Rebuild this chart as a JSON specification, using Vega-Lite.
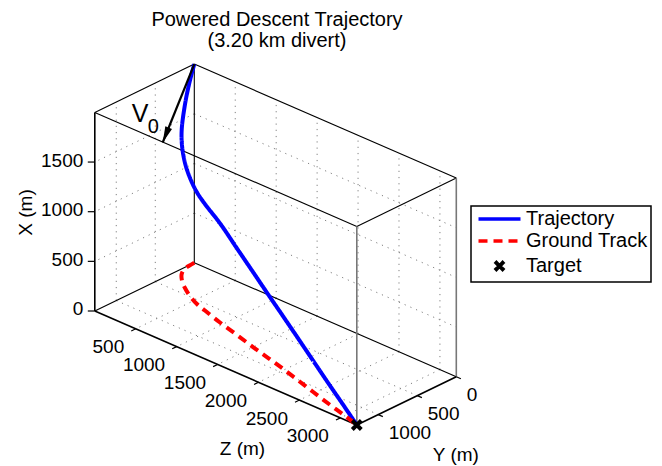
{
  "$schema": "https://vega.github.io/schema/vega-lite/v6.json",
  "width": 662,
  "height": 466,
  "autosize": {"type": "none"},
  "padding": 0,
  "background": "white",
  "config": {"view": {"stroke": null}, "font": "Liberation Sans", "text": {"font": "Liberation Sans", "color": "black"}},
  "title": {
    "text": ["Powered Descent Trajectory", "(3.20 km divert)"],
    "anchor": "middle", "frame": "group", "orient": "top", "offset": -51, "dx": -54,
    "font": "Liberation Sans", "fontSize": 20, "fontWeight": "normal", "color": "black", "lineHeight": 21
  },
  "datasets": {
    "seg": [
      {"part": "grid", "Z": 500, "Y": 0, "X": 0, "Z2": 500, "Y2": 1275, "X2": 0},
      {"part": "grid", "Z": 1000, "Y": 0, "X": 0, "Z2": 1000, "Y2": 1275, "X2": 0},
      {"part": "grid", "Z": 1500, "Y": 0, "X": 0, "Z2": 1500, "Y2": 1275, "X2": 0},
      {"part": "grid", "Z": 2000, "Y": 0, "X": 0, "Z2": 2000, "Y2": 1275, "X2": 0},
      {"part": "grid", "Z": 2500, "Y": 0, "X": 0, "Z2": 2500, "Y2": 1275, "X2": 0},
      {"part": "grid", "Z": 3000, "Y": 0, "X": 0, "Z2": 3000, "Y2": 1275, "X2": 0},
      {"part": "grid", "Z": 0, "Y": 500, "X": 0, "Z2": 3200, "Y2": 500, "X2": 0},
      {"part": "grid", "Z": 0, "Y": 1000, "X": 0, "Z2": 3200, "Y2": 1000, "X2": 0},
      {"part": "grid", "Z": 500, "Y": 0, "X": 0, "Z2": 500, "Y2": 0, "X2": 2000},
      {"part": "grid", "Z": 1000, "Y": 0, "X": 0, "Z2": 1000, "Y2": 0, "X2": 2000},
      {"part": "grid", "Z": 1500, "Y": 0, "X": 0, "Z2": 1500, "Y2": 0, "X2": 2000},
      {"part": "grid", "Z": 2000, "Y": 0, "X": 0, "Z2": 2000, "Y2": 0, "X2": 2000},
      {"part": "grid", "Z": 2500, "Y": 0, "X": 0, "Z2": 2500, "Y2": 0, "X2": 2000},
      {"part": "grid", "Z": 3000, "Y": 0, "X": 0, "Z2": 3000, "Y2": 0, "X2": 2000},
      {"part": "grid", "Z": 0, "Y": 0, "X": 500, "Z2": 3200, "Y2": 0, "X2": 500},
      {"part": "grid", "Z": 0, "Y": 0, "X": 1000, "Z2": 3200, "Y2": 0, "X2": 1000},
      {"part": "grid", "Z": 0, "Y": 0, "X": 1500, "Z2": 3200, "Y2": 0, "X2": 1500},
      {"part": "grid", "Z": 0, "Y": 500, "X": 0, "Z2": 0, "Y2": 500, "X2": 2000},
      {"part": "grid", "Z": 0, "Y": 1000, "X": 0, "Z2": 0, "Y2": 1000, "X2": 2000},
      {"part": "grid", "Z": 0, "Y": 0, "X": 500, "Z2": 0, "Y2": 1275, "X2": 500},
      {"part": "grid", "Z": 0, "Y": 0, "X": 1000, "Z2": 0, "Y2": 1275, "X2": 1000},
      {"part": "grid", "Z": 0, "Y": 0, "X": 1500, "Z2": 0, "Y2": 1275, "X2": 1500},
      {"part": "box", "Z": 0, "Y": 0, "X": 0, "Z2": 0, "Y2": 1275, "X2": 0},
      {"part": "box", "Z": 0, "Y": 0, "X": 0, "Z2": 3200, "Y2": 0, "X2": 0},
      {"part": "box", "Z": 0, "Y": 0, "X": 2000, "Z2": 0, "Y2": 1275, "X2": 2000},
      {"part": "box", "Z": 0, "Y": 0, "X": 2000, "Z2": 3200, "Y2": 0, "X2": 2000},
      {"part": "box", "Z": 0, "Y": 1275, "X": 2000, "Z2": 3200, "Y2": 1275, "X2": 2000},
      {"part": "box", "Z": 3200, "Y": 0, "X": 2000, "Z2": 3200, "Y2": 1275, "X2": 2000},
      {"part": "box", "Z": 0, "Y": 0, "X": 0, "Z2": 0, "Y2": 0, "X2": 2000},
      {"part": "vert", "Z": 3200, "Y": 0, "X": 0, "Z2": 3200, "Y2": 0, "X2": 2000},
      {"part": "vert", "Z": 3200, "Y": 1275, "X": 0, "Z2": 3200, "Y2": 1275, "X2": 2000},
      {"part": "axis", "Z": 0, "Y": 1275, "X": 0, "Z2": 3200, "Y2": 1275, "X2": 0},
      {"part": "axis", "Z": 3200, "Y": 0, "X": 0, "Z2": 3200, "Y2": 1275, "X2": 0},
      {"part": "axis", "Z": 0, "Y": 1275, "X": 0, "Z2": 0, "Y2": 1275, "X2": 2000}
    ],
    "ticks": [
      {"axis": "Z", "label": "500", "Z": 500, "Y": 1275, "X": 0},
      {"axis": "Z", "label": "1000", "Z": 1000, "Y": 1275, "X": 0},
      {"axis": "Z", "label": "1500", "Z": 1500, "Y": 1275, "X": 0},
      {"axis": "Z", "label": "2000", "Z": 2000, "Y": 1275, "X": 0},
      {"axis": "Z", "label": "2500", "Z": 2500, "Y": 1275, "X": 0},
      {"axis": "Z", "label": "3000", "Z": 3000, "Y": 1275, "X": 0},
      {"axis": "Y", "label": "0", "Z": 3200, "Y": 0, "X": 0},
      {"axis": "Y", "label": "500", "Z": 3200, "Y": 500, "X": 0},
      {"axis": "Y", "label": "1000", "Z": 3200, "Y": 1000, "X": 0},
      {"axis": "X", "label": "0", "Z": 0, "Y": 1275, "X": 0},
      {"axis": "X", "label": "500", "Z": 0, "Y": 1275, "X": 500},
      {"axis": "X", "label": "1000", "Z": 0, "Y": 1275, "X": 1000},
      {"axis": "X", "label": "1500", "Z": 0, "Y": 1275, "X": 1500}
    ],
    "titles": [
      {"axis": "X", "label": "X (m)", "Z": 0, "Y": 1275, "X": 1000},
      {"axis": "Z", "label": "Z (m)", "Z": 1600, "Y": 1275, "X": 0},
      {"axis": "Y", "label": "Y (m)", "Z": 3200, "Y": 637.5, "X": 0}
    ],
    "path": [
      {"series": "Trajectory", "t": 0, "Z": 0, "Y": 0, "X": 2000},
      {"series": "Trajectory", "t": 1, "Z": 7, "Y": 68, "X": 1848},
      {"series": "Trajectory", "t": 2, "Z": 14, "Y": 134, "X": 1650},
      {"series": "Trajectory", "t": 3, "Z": 69, "Y": 234, "X": 1450},
      {"series": "Trajectory", "t": 4, "Z": 164, "Y": 329, "X": 1360},
      {"series": "Trajectory", "t": 5, "Z": 276, "Y": 409, "X": 1260},
      {"series": "Trajectory", "t": 6, "Z": 414, "Y": 490, "X": 1190},
      {"series": "Trajectory", "t": 7, "Z": 565, "Y": 559, "X": 1125},
      {"series": "Trajectory", "t": 8, "Z": 703, "Y": 601, "X": 1072},
      {"series": "Trajectory", "t": 9, "Z": 959, "Y": 677, "X": 999},
      {"series": "Trajectory", "t": 10, "Z": 1234, "Y": 748, "X": 872},
      {"series": "Trajectory", "t": 11, "Z": 1497, "Y": 818, "X": 755},
      {"series": "Trajectory", "t": 12, "Z": 1741, "Y": 879, "X": 639},
      {"series": "Trajectory", "t": 13, "Z": 1984, "Y": 941, "X": 528},
      {"series": "Trajectory", "t": 14, "Z": 2233, "Y": 1010, "X": 421},
      {"series": "Trajectory", "t": 15, "Z": 2482, "Y": 1080, "X": 314},
      {"series": "Trajectory", "t": 16, "Z": 2731, "Y": 1149, "X": 206},
      {"series": "Trajectory", "t": 17, "Z": 2974, "Y": 1211, "X": 96},
      {"series": "Trajectory", "t": 18, "Z": 3200, "Y": 1275, "X": 0},
      {"series": "Ground Track", "t": 0, "Z": 0, "Y": 0, "X": 0},
      {"series": "Ground Track", "t": 1, "Z": 7, "Y": 68, "X": 0},
      {"series": "Ground Track", "t": 2, "Z": 14, "Y": 134, "X": 0},
      {"series": "Ground Track", "t": 3, "Z": 69, "Y": 234, "X": 0},
      {"series": "Ground Track", "t": 4, "Z": 164, "Y": 329, "X": 0},
      {"series": "Ground Track", "t": 5, "Z": 276, "Y": 409, "X": 0},
      {"series": "Ground Track", "t": 6, "Z": 414, "Y": 490, "X": 0},
      {"series": "Ground Track", "t": 7, "Z": 565, "Y": 559, "X": 0},
      {"series": "Ground Track", "t": 8, "Z": 703, "Y": 601, "X": 0},
      {"series": "Ground Track", "t": 9, "Z": 959, "Y": 677, "X": 0},
      {"series": "Ground Track", "t": 10, "Z": 1234, "Y": 748, "X": 0},
      {"series": "Ground Track", "t": 11, "Z": 1497, "Y": 818, "X": 0},
      {"series": "Ground Track", "t": 12, "Z": 1741, "Y": 879, "X": 0},
      {"series": "Ground Track", "t": 13, "Z": 1984, "Y": 941, "X": 0},
      {"series": "Ground Track", "t": 14, "Z": 2233, "Y": 1010, "X": 0},
      {"series": "Ground Track", "t": 15, "Z": 2482, "Y": 1080, "X": 0},
      {"series": "Ground Track", "t": 16, "Z": 2731, "Y": 1149, "X": 0},
      {"series": "Ground Track", "t": 17, "Z": 2974, "Y": 1211, "X": 0},
      {"series": "Ground Track", "t": 18, "Z": 3200, "Y": 1275, "X": 0}
    ],
    "arrow": [
      {"name": "V", "sub": "0", "Z": 0, "Y": 0, "X": 2000, "Z2": 0, "Y2": 405, "X2": 1365}
    ],
    "target": [
      {"series": "Target", "Z": 3200, "Y": 1275, "X": 0}
    ]
  },
  "encoding": {
    "x": {"field": "px", "type": "quantitative", "scale": {"domain": [0, 662], "nice": false, "zero": false}, "axis": null},
    "y": {"field": "py", "type": "quantitative", "scale": {"domain": [0, 466], "nice": false, "zero": false, "reverse": true}, "axis": null}
  },
  "layer": [
    {
      "data": {"name": "seg"},
      "transform": [
        {"filter": "datum.part === 'grid'"},
        {"calculate": "194.3 + 0.081875*datum.Z - 0.078039*datum.Y", "as": "px"},
        {"calculate": "262.7 + 0.035625*datum.Z + 0.037882*datum.Y - 0.0993*datum.X", "as": "py"},
        {"calculate": "194.3 + 0.081875*datum.Z2 - 0.078039*datum.Y2", "as": "px2"},
        {"calculate": "262.7 + 0.035625*datum.Z2 + 0.037882*datum.Y2 - 0.0993*datum.X2", "as": "py2"}
      ],
      "mark": {"type": "rule", "color": "#808080", "strokeWidth": 1, "strokeDash": [1.2, 5]},
      "encoding": {"x2": {"field": "px2"}, "y2": {"field": "py2"}}
    },
    {
      "data": {"name": "seg"},
      "transform": [
        {"filter": "datum.part === 'box'"},
        {"calculate": "194.3 + 0.081875*datum.Z - 0.078039*datum.Y", "as": "px"},
        {"calculate": "262.7 + 0.035625*datum.Z + 0.037882*datum.Y - 0.0993*datum.X", "as": "py"},
        {"calculate": "194.3 + 0.081875*datum.Z2 - 0.078039*datum.Y2", "as": "px2"},
        {"calculate": "262.7 + 0.035625*datum.Z2 + 0.037882*datum.Y2 - 0.0993*datum.X2", "as": "py2"}
      ],
      "mark": {"type": "rule", "color": "#000000", "strokeWidth": 1.1},
      "encoding": {"x2": {"field": "px2"}, "y2": {"field": "py2"}}
    },
    {
      "data": {"name": "seg"},
      "transform": [
        {"filter": "datum.part === 'vert'"},
        {"calculate": "194.3 + 0.081875*datum.Z - 0.078039*datum.Y", "as": "px"},
        {"calculate": "262.7 + 0.035625*datum.Z + 0.037882*datum.Y - 0.0993*datum.X", "as": "py"},
        {"calculate": "194.3 + 0.081875*datum.Z2 - 0.078039*datum.Y2", "as": "px2"},
        {"calculate": "262.7 + 0.035625*datum.Z2 + 0.037882*datum.Y2 - 0.0993*datum.X2", "as": "py2"}
      ],
      "mark": {"type": "rule", "color": "#777777", "strokeWidth": 1.6},
      "encoding": {"x2": {"field": "px2"}, "y2": {"field": "py2"}}
    },
    {
      "data": {"name": "seg"},
      "transform": [
        {"filter": "datum.part === 'axis'"},
        {"calculate": "194.3 + 0.081875*datum.Z - 0.078039*datum.Y", "as": "px"},
        {"calculate": "262.7 + 0.035625*datum.Z + 0.037882*datum.Y - 0.0993*datum.X", "as": "py"},
        {"calculate": "194.3 + 0.081875*datum.Z2 - 0.078039*datum.Y2", "as": "px2"},
        {"calculate": "262.7 + 0.035625*datum.Z2 + 0.037882*datum.Y2 - 0.0993*datum.X2", "as": "py2"}
      ],
      "mark": {"type": "rule", "color": "#000000", "strokeWidth": 1.6},
      "encoding": {"x2": {"field": "px2"}, "y2": {"field": "py2"}}
    },
    {
      "data": {"name": "ticks"},
      "transform": [
        {"calculate": "194.3 + 0.081875*datum.Z - 0.078039*datum.Y", "as": "px"},
        {"calculate": "262.7 + 0.035625*datum.Z + 0.037882*datum.Y - 0.0993*datum.X", "as": "py"},
        {"calculate": "datum.px + (datum.axis === 'Z' ? -4.5 : datum.axis === 'Y' ? 4.6 : -7)", "as": "px2"},
        {"calculate": "datum.py + (datum.axis === 'Z' ? 2.2 : datum.axis === 'Y' ? 2 : 0)", "as": "py2"}
      ],
      "mark": {"type": "rule", "color": "#000000", "strokeWidth": 1.2},
      "encoding": {"x2": {"field": "px2"}, "y2": {"field": "py2"}}
    },
    {
      "data": {"name": "ticks"},
      "transform": [
        {"filter": "datum.axis === 'Z'"},
        {"calculate": "194.3 + 0.081875*datum.Z - 0.078039*datum.Y", "as": "px"},
        {"calculate": "262.7 + 0.035625*datum.Z + 0.037882*datum.Y - 0.0993*datum.X", "as": "py"}
      ],
      "mark": {"type": "text", "align": "right", "baseline": "alphabetic", "dx": -11.5, "dy": 24.6, "fontSize": 19, "font": "Liberation Sans", "color": "black"},
      "encoding": {"text": {"field": "label"}}
    },
    {
      "data": {"name": "ticks"},
      "transform": [
        {"filter": "datum.axis === 'Y'"},
        {"calculate": "194.3 + 0.081875*datum.Z - 0.078039*datum.Y", "as": "px"},
        {"calculate": "262.7 + 0.035625*datum.Z + 0.037882*datum.Y - 0.0993*datum.X", "as": "py"}
      ],
      "mark": {"type": "text", "align": "left", "baseline": "alphabetic", "dx": 10.5, "dy": 24, "fontSize": 19, "font": "Liberation Sans", "color": "black"},
      "encoding": {"text": {"field": "label"}}
    },
    {
      "data": {"name": "ticks"},
      "transform": [
        {"filter": "datum.axis === 'X'"},
        {"calculate": "194.3 + 0.081875*datum.Z - 0.078039*datum.Y", "as": "px"},
        {"calculate": "262.7 + 0.035625*datum.Z + 0.037882*datum.Y - 0.0993*datum.X", "as": "py"}
      ],
      "mark": {"type": "text", "align": "right", "baseline": "alphabetic", "dx": -11.5, "dy": 4.5, "fontSize": 19, "font": "Liberation Sans", "color": "black"},
      "encoding": {"text": {"field": "label"}}
    },
    {
      "data": {"name": "titles"},
      "transform": [
        {"filter": "datum.axis === 'X'"},
        {"calculate": "194.3 + 0.081875*datum.Z - 0.078039*datum.Y", "as": "px"},
        {"calculate": "262.7 + 0.035625*datum.Z + 0.037882*datum.Y - 0.0993*datum.X", "as": "py"}
      ],
      "mark": {"type": "text", "align": "center", "baseline": "alphabetic", "angle": 270, "dx": -0.8, "dy": -63, "fontSize": 19, "font": "Liberation Sans", "color": "black"},
      "encoding": {"text": {"field": "label"}}
    },
    {
      "data": {"name": "titles"},
      "transform": [
        {"filter": "datum.axis === 'Z'"},
        {"calculate": "194.3 + 0.081875*datum.Z - 0.078039*datum.Y", "as": "px"},
        {"calculate": "262.7 + 0.035625*datum.Z + 0.037882*datum.Y - 0.0993*datum.X", "as": "py"}
      ],
      "mark": {"type": "text", "align": "center", "baseline": "alphabetic", "dx": 16.7, "dy": 87, "fontSize": 19, "font": "Liberation Sans", "color": "black"},
      "encoding": {"text": {"field": "label"}}
    },
    {
      "data": {"name": "titles"},
      "transform": [
        {"filter": "datum.axis === 'Y'"},
        {"calculate": "194.3 + 0.081875*datum.Z - 0.078039*datum.Y", "as": "px"},
        {"calculate": "262.7 + 0.035625*datum.Z + 0.037882*datum.Y - 0.0993*datum.X", "as": "py"}
      ],
      "mark": {"type": "text", "align": "center", "baseline": "alphabetic", "dx": 49.3, "dy": 60.2, "fontSize": 19, "font": "Liberation Sans", "color": "black"},
      "encoding": {"text": {"field": "label"}}
    },
    {
      "data": {"name": "path"},
      "transform": [
        {"calculate": "194.3 + 0.081875*datum.Z - 0.078039*datum.Y", "as": "px"},
        {"calculate": "262.7 + 0.035625*datum.Z + 0.037882*datum.Y - 0.0993*datum.X", "as": "py"}
      ],
      "mark": {"type": "line", "strokeWidth": 4, "interpolate": "catmull-rom", "strokeCap": "butt"},
      "encoding": {
        "order": {"field": "t", "type": "quantitative"},
        "color": {
          "field": "series", "type": "nominal",
          "scale": {"domain": ["Trajectory", "Ground Track", "Target"], "range": ["#0000ff", "#ff0000", "#000000"]},
          "legend": {
            "title": null, "orient": "none", "legendX": 471, "legendY": 206, "padding": 3,
            "strokeColor": "black", "fillColor": "white", "cornerRadius": 0,
            "labelFont": "Liberation Sans", "labelFontSize": 20, "labelColor": "black", "labelLimit": 400,
            "labelOffset": 16.5, "symbolOffset": 15.5, "symbolSize": 400, "symbolStrokeWidth": 3.5, "rowPadding": 2,
            "encode": {
              "symbols": {"update": {
                "shape": {"signal": "datum.value === 'Target' ? 'M-0.45,-0.45L0.45,0.45M0.45,-0.45L-0.45,0.45' : 'M-2.1,0L2.1,0'"},
                "strokeDash": {"signal": "datum.value === 'Ground Track' ? [9,6] : [1,0]"},
                "stroke": {"signal": "datum.value === 'Trajectory' ? '#0000ff' : datum.value === 'Ground Track' ? '#ff0000' : '#000000'"},
                "strokeWidth": {"signal": "datum.value === 'Target' ? 4 : 3.5"},
                "fill": {"value": "transparent"},
                "opacity": {"value": 1}
              }},
              "legend": {"update": {"strokeWidth": {"value": 1.5}}}
            }
          }
        },
        "strokeDash": {
          "field": "series", "type": "nominal",
          "scale": {"domain": ["Trajectory", "Ground Track"], "range": [[1, 0], [9, 6]]},
          "legend": null
        }
      }
    },
    {
      "data": {"name": "arrow"},
      "transform": [
        {"calculate": "194.3 + 0.081875*datum.Z - 0.078039*datum.Y", "as": "px"},
        {"calculate": "262.7 + 0.035625*datum.Z + 0.037882*datum.Y - 0.0993*datum.X", "as": "py"},
        {"calculate": "194.3 + 0.081875*datum.Z2 - 0.078039*datum.Y2", "as": "px2"},
        {"calculate": "262.7 + 0.035625*datum.Z2 + 0.037882*datum.Y2 - 0.0993*datum.X2", "as": "py2"}
      ],
      "mark": {"type": "rule", "color": "#000000", "strokeWidth": 2.2, "strokeCap": "butt"},
      "encoding": {"x2": {"field": "px2"}, "y2": {"field": "py2"}}
    },
    {
      "data": {"name": "arrow"},
      "transform": [
        {"calculate": "194.3 + 0.081875*datum.Z - 0.078039*datum.Y", "as": "sx1"},
        {"calculate": "262.7 + 0.035625*datum.Z + 0.037882*datum.Y - 0.0993*datum.X", "as": "sy1"},
        {"calculate": "194.3 + 0.081875*datum.Z2 - 0.078039*datum.Y2", "as": "sx2"},
        {"calculate": "262.7 + 0.035625*datum.Z2 + 0.037882*datum.Y2 - 0.0993*datum.X2", "as": "sy2"},
        {"calculate": "sqrt(pow(datum.sx2 - datum.sx1, 2) + pow(datum.sy2 - datum.sy1, 2))", "as": "len"},
        {"calculate": "datum.sx2 - 8 * (datum.sx2 - datum.sx1) / datum.len", "as": "px"},
        {"calculate": "datum.sy2 - 8 * (datum.sy2 - datum.sy1) / datum.len", "as": "py"},
        {"calculate": "-atan2(datum.sx2 - datum.sx1, datum.sy2 - datum.sy1) * 180 / PI", "as": "ang"}
      ],
      "mark": {"type": "point", "shape": "M0,1L-0.45,-1L0.45,-1Z", "size": 256, "filled": true, "color": "#000000", "opacity": 1},
      "encoding": {"angle": {"field": "ang", "type": "quantitative", "scale": null}}
    },
    {
      "data": {"name": "arrow"},
      "transform": [
        {"calculate": "194.3 + 0.081875*datum.Z - 0.078039*datum.Y", "as": "px"},
        {"calculate": "262.7 + 0.035625*datum.Z + 0.037882*datum.Y - 0.0993*datum.X", "as": "py"}
      ],
      "mark": {"type": "text", "align": "left", "baseline": "alphabetic", "dx": -62.6, "dy": 57.6, "fontSize": 25, "font": "Liberation Sans", "color": "black"},
      "encoding": {"text": {"field": "name"}}
    },
    {
      "data": {"name": "arrow"},
      "transform": [
        {"calculate": "194.3 + 0.081875*datum.Z - 0.078039*datum.Y", "as": "px"},
        {"calculate": "262.7 + 0.035625*datum.Z + 0.037882*datum.Y - 0.0993*datum.X", "as": "py"}
      ],
      "mark": {"type": "text", "align": "left", "baseline": "alphabetic", "dx": -46.5, "dy": 69.2, "fontSize": 20, "font": "Liberation Sans", "color": "black"},
      "encoding": {"text": {"field": "sub"}}
    },
    {
      "data": {"name": "target"},
      "transform": [
        {"calculate": "194.3 + 0.081875*datum.Z - 0.078039*datum.Y", "as": "px"},
        {"calculate": "262.7 + 0.035625*datum.Z + 0.037882*datum.Y - 0.0993*datum.X", "as": "py"}
      ],
      "mark": {"type": "point", "shape": "M-1,-1L1,1M1,-1L-1,1", "size": 81, "filled": false, "stroke": "#000000", "strokeWidth": 4, "opacity": 1}
    }
  ]
}
